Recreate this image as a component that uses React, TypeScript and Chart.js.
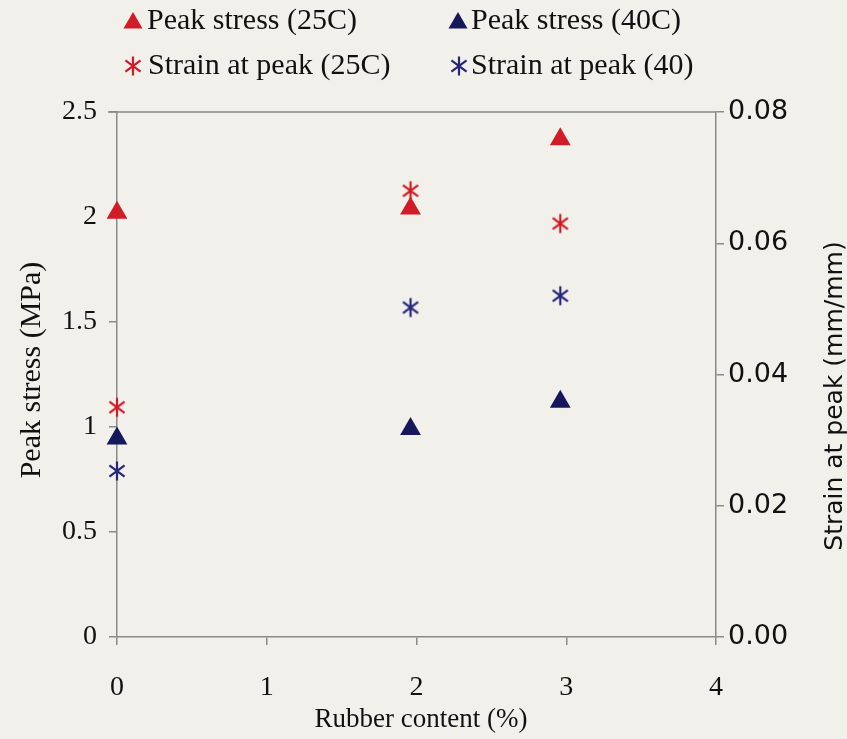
import React, { useEffect, useRef } from "react";
import { Chart, registerables } from "chart.js";

Chart.register(...registerables);

const rubberContent = [0, 1.96, 2.96];
const peakStress25 = [2.02, 2.04, 2.37];
const peakStress40 = [0.945, 0.99, 1.12];
const strain25 = [0.035, 0.068, 0.063];
const strain40 = [0.0253, 0.0502, 0.052];

const legendLabels = [
  "Peak stress (25C)",
  "Peak stress (40C)",
  "Strain at peak (25C)",
  "Strain at peak (40)",
];
const xTitle = "Rubber content (%)";
const yTitle = "Peak stress (MPa)";
const y1Title = "Strain at peak (mm/mm)";

const RED = "#d01c26";
const NAVY = "#15185a";
const BLUE_STAR = "#25287a";
const BG = "#f1f0eb";
const AXIS = "#8a8a86";
const SERIF = "'Liberation Serif', 'Times New Roman', serif";
const SANS = "'DejaVu Sans', sans-serif";

function makeStar(color: string, size: number): HTMLCanvasElement {
  const c = document.createElement("canvas");
  c.width = size;
  c.height = size;
  const g = c.getContext("2d")!;
  const m = size / 2;
  const r = size / 2 - 1.5;
  g.strokeStyle = color;
  g.lineWidth = 2.2;
  g.lineCap = "butt";
  g.beginPath();
  g.moveTo(m, m - r);
  g.lineTo(m, m + r);
  const dx = r * Math.sin(Math.PI / 3.4);
  const dy = r * Math.cos(Math.PI / 3.4);
  g.moveTo(m - dx, m - dy);
  g.lineTo(m + dx, m + dy);
  g.moveTo(m + dx, m - dy);
  g.lineTo(m - dx, m + dy);
  g.stroke();
  return c;
}

function drawTriangle(ctx: CanvasRenderingContext2D, x: number, y: number, r: number, color: string) {
  const h = r * 1.5;
  const w = r * Math.sqrt(3);
  ctx.save();
  ctx.fillStyle = color;
  ctx.beginPath();
  ctx.moveTo(x, y - r);
  ctx.lineTo(x + w / 2, y - r + h);
  ctx.lineTo(x - w / 2, y - r + h);
  ctx.closePath();
  ctx.fill();
  ctx.restore();
}

export default function App() {
  const ref = useRef<HTMLCanvasElement | null>(null);

  useEffect(() => {
    document.body.style.margin = "0";
    const canvas = ref.current!;
    const starRed = makeStar(RED, 22);
    const starBlue = makeStar(BLUE_STAR, 22);

    const decor = {
      id: "decor",
      beforeDraw(chart: any) {
        const ctx = chart.ctx;
        ctx.save();
        ctx.fillStyle = BG;
        ctx.fillRect(0, 0, chart.width, chart.height);
        ctx.restore();
      },
      afterDraw(chart: any) {
        const ctx = chart.ctx as CanvasRenderingContext2D;
        const a = chart.chartArea;
        ctx.save();
        // top border
        ctx.strokeStyle = AXIS;
        ctx.lineWidth = 1.5;
        ctx.beginPath();
        ctx.moveTo(a.left - 9, a.top);
        ctx.lineTo(a.right, a.top);
        ctx.stroke();

        // legend
        ctx.fillStyle = "#111";
        ctx.font = `30px ${SERIF}`;
        ctx.textBaseline = "middle";
        ctx.textAlign = "left";
        const cols = [133, 458];
        const rows = [21, 66];
        drawTriangle(ctx, cols[0], rows[0] + 2, 11, RED);
        ctx.fillText(legendLabels[0], cols[0] + 14, rows[0]);
        drawTriangle(ctx, cols[1], rows[0] + 2, 11, NAVY);
        ctx.fillText(legendLabels[1], cols[1] + 13, rows[0]);
        ctx.drawImage(starRed, cols[0] - 11, rows[1] - 11);
        ctx.fillText(legendLabels[2], cols[0] + 15, rows[1]);
        ctx.drawImage(starBlue, cols[1] + 1 - 11, rows[1] - 11);
        ctx.fillText(legendLabels[3], cols[1] + 13, rows[1]);

        // left title
        ctx.textAlign = "center";
        ctx.font = `30px ${SERIF}`;
        ctx.save();
        ctx.translate(32, 370);
        ctx.rotate(-Math.PI / 2);
        ctx.fillText(yTitle, 0, 0);
        ctx.restore();

        // right title
        ctx.font = `25px ${SANS}`;
        ctx.save();
        ctx.translate(835, 396);
        ctx.rotate(-Math.PI / 2);
        ctx.fillText(y1Title, 0, 0);
        ctx.restore();

        // x title
        ctx.font = `27px ${SERIF}`;
        ctx.fillText(xTitle, 421, 720);
        ctx.restore();
      },
    };

    const common = { clip: false as any };

    const chart = new Chart(canvas, {
      type: "scatter",
      data: {
        datasets: [
          {
            ...common,
            label: legendLabels[0],
            data: rubberContent.map((x, i) => ({ x, y: peakStress25[i] })),
            yAxisID: "y",
            pointStyle: "triangle",
            pointRadius: 12,
            backgroundColor: RED,
            borderColor: RED,
            borderWidth: 0,
          },
          {
            ...common,
            label: legendLabels[1],
            data: rubberContent.map((x, i) => ({ x, y: peakStress40[i] })),
            yAxisID: "y",
            pointStyle: "triangle",
            pointRadius: 12,
            backgroundColor: NAVY,
            borderColor: NAVY,
            borderWidth: 0,
          },
          {
            ...common,
            label: legendLabels[2],
            data: rubberContent.map((x, i) => ({ x, y: strain25[i] })),
            yAxisID: "y1",
            pointStyle: starRed as any,
            pointRadius: 11,
            backgroundColor: RED,
            borderColor: RED,
          },
          {
            ...common,
            label: legendLabels[3],
            data: rubberContent.map((x, i) => ({ x, y: strain40[i] })),
            yAxisID: "y1",
            pointStyle: starBlue as any,
            pointRadius: 11,
            backgroundColor: BLUE_STAR,
            borderColor: BLUE_STAR,
          },
        ],
      },
      options: {
        responsive: false,
        animation: false,
        layout: { padding: { top: 112, left: 0, right: 0, bottom: 0 } },
        plugins: {
          legend: { display: false },
          tooltip: { enabled: false },
        },
        scales: {
          x: {
            type: "linear",
            min: 0,
            max: 4,
            afterFit: (s: any) => {
              s.height = 102;
            },
            ticks: {
              stepSize: 1,
              color: "#111",
              padding: 26,
              font: { family: SERIF, size: 28 },
            },
            grid: {
              drawOnChartArea: false,
              drawTicks: true,
              tickLength: 8,
              color: AXIS,
              lineWidth: 1.5,
            },
            border: { color: AXIS, width: 1.5 },
          },
          y: {
            position: "left",
            min: 0,
            max: 2.5,
            afterFit: (s: any) => {
              s.width = 117;
            },
            ticks: {
              stepSize: 0.5,
              color: "#111",
              padding: 12,
              font: { family: SERIF, size: 28 },
              callback: (v: any) => String(Number(v)),
            },
            grid: {
              drawOnChartArea: false,
              drawTicks: true,
              tickLength: 8,
              color: AXIS,
              lineWidth: 1.5,
            },
            border: { color: AXIS, width: 1.5 },
          },
          y1: {
            position: "right",
            min: 0,
            max: 0.08,
            afterFit: (s: any) => {
              s.width = 131;
            },
            ticks: {
              stepSize: 0.02,
              color: "#111",
              padding: 4,
              font: { family: SANS, size: 27 },
              callback: (v: any) => Number(v).toFixed(2),
            },
            grid: {
              drawOnChartArea: false,
              drawTicks: true,
              tickLength: 8,
              color: AXIS,
              lineWidth: 1.5,
            },
            border: { color: AXIS, width: 1.5 },
          },
        },
      },
      plugins: [decor],
    });
    return () => chart.destroy();
  }, []);

  return (
    <div style={{ width: 847, height: 739, background: BG }}>
      <canvas ref={ref} width={847} height={739} style={{ display: "block" }} />
    </div>
  );
}
